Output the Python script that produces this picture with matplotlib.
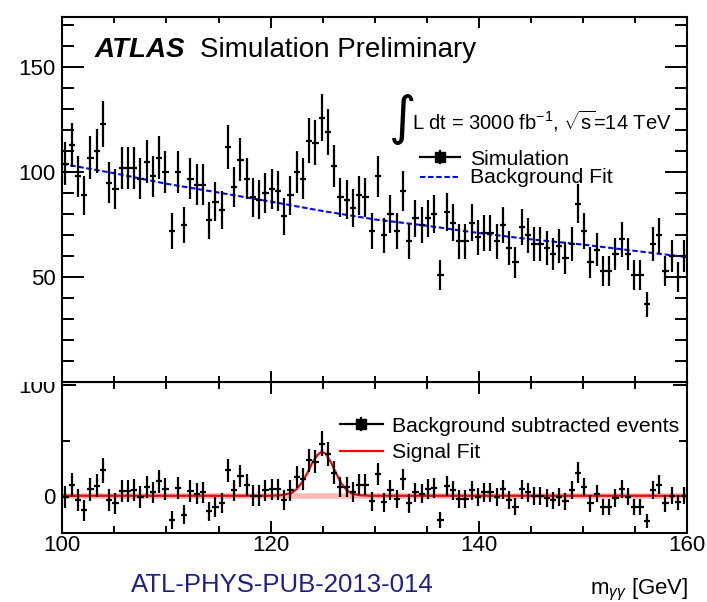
"""
Diphoton invariant mass spectrum (HL-LHC projection, 3000 fb^-1).
Top: simulated events with background fit. Bottom: background subtracted
events with the signal fit.
"""

import numpy as np
import matplotlib.pyplot as plt
from matplotlib.lines import Line2D
from matplotlib.patches import Rectangle
from matplotlib.ticker import MultipleLocator, FixedLocator, FuncFormatter

plt.rcParams['font.family'] = ['Liberation Sans', 'DejaVu Sans']
plt.rcParams['mathtext.fontset'] = 'custom'
plt.rcParams['mathtext.rm'] = 'Liberation Sans'
plt.rcParams['mathtext.it'] = 'Liberation Sans:italic'
plt.rcParams['mathtext.bf'] = 'Liberation Sans:bold'

# 100 bins of 0.6 GeV between 100 and 160 GeV
bin_edges = np.linspace(100, 160, 101)
mass = 0.5 * (bin_edges[:-1] + bin_edges[1:])

events = [104, 113, 98, 89, 107, 110, 123, 95, 92, 102,
          102, 102, 97, 105, 98, 107, 100, 72, 100, 75,
          97, 94, 94, 77, 86, 82, 112, 93, 106, 97,
          88, 87, 90, 92, 91, 79, 89, 100, 97, 115,
          114, 126, 119, 103, 88, 87, 83, 89, 88, 72,
          98, 70, 80, 72, 91, 67, 78, 75, 78, 80,
          51, 81, 76, 67, 67, 76, 69, 71, 71, 67,
          75, 64, 57, 74, 70, 66, 66, 64, 61, 65,
          59, 66, 85, 72, 57, 63, 53, 53, 61, 68,
          61, 51, 51, 37, 66, 70, 53, 60, 50, 60]

bkg_subtracted = [-1, 10, -4, -13, 6, 9, 23, -4, -7, 4,
                  4, 5, -1, 8, 3, 13, 6, -22, 7, -17,
                  4, 2, 3, -14, -10, -7, 23, 5, 18, 10,
                  0, 0, 5, 6, 6, -4, 5, 17, 15, 32,
                  31, 47, 38, 21, 8, 8, 3, 10, 10, -5,
                  20, -6, 5, -3, 15, -7, 3, 2, 6, 7,
                  -22, 9, 5, -3, -3, 5, -1, 3, 3, -1,
                  6, -4, -10, 6, 3, 0, 0, -2, -4, -1,
                  -5, 5, 21, 8, -7, 2, -10, -10, -2, 6,
                  -1, -10, -10, -23, 5, 10, -7, 0, -6, 0]

# background fit, read every 5 GeV
fit_mass = [100, 105, 110, 115, 120, 125, 130, 135, 140, 145, 150, 155, 160]
bkg_fit = [104, 99.5, 94.5, 90.3, 86, 81.5, 77.5, 74.5, 71, 68, 65.5, 62.5, 59.5]

# signal fit curve
sig_mass = [100, 120, 121, 122, 122.5, 123, 123.5, 124, 124.5, 124.9,
            125.3, 125.8, 126.3, 126.8, 127.3, 127.8, 128.5, 129.5, 160]
sig_fit = [0, 0, 0.5, 2.5, 6, 12, 20, 30, 37, 40,
           38, 30, 20, 11, 5, 2, 0.5, 0, 0]

W, H = 707, 602
fig = plt.figure(figsize=(W / 100, H / 100), dpi=100)


def fx(x):
    return x / W


def fy(y):
    return 1 - y / H


ax_top = fig.add_axes([fx(62.3), fy(382), 625 / W, 365 / H], zorder=2)
ax_bot = fig.add_axes([fx(62.3), fy(533.3), 625 / W, 151.3 / H], zorder=0)

err = np.sqrt(events)

ax_top.errorbar(mass, events, xerr=0.3, yerr=err, fmt='none', ecolor='black',
                elinewidth=1.6, capsize=0, zorder=3)
ax_top.plot(fit_mass, bkg_fit, color='blue', lw=1.5, ls=(0, (2.6, 1.3)), zorder=2)

ax_bot.axhline(0, color='#ff7070', lw=4, alpha=0.5, zorder=1)
ax_bot.plot(sig_mass, sig_fit, color='red', lw=1.6, zorder=2)
ax_bot.errorbar(mass, bkg_subtracted, xerr=0.3, yerr=err, fmt='none',
                ecolor='black', elinewidth=1.6, capsize=0, zorder=3)

for ax in (ax_top, ax_bot):
    ax.set_xlim(100, 160)
    ax.xaxis.set_major_locator(MultipleLocator(20))
    ax.xaxis.set_minor_locator(MultipleLocator(5))
    ax.tick_params(which='both', direction='in', top=True, right=True,
                   width=1.4, labelsize=16, pad=5)
    for s in ax.spines.values():
        s.set_linewidth(1.5)

ax_top.set_ylim(0, 174)
ax_top.yaxis.set_major_locator(MultipleLocator(50))
ax_top.yaxis.set_minor_locator(MultipleLocator(10))
ax_top.yaxis.set_major_formatter(FuncFormatter(lambda v, p: '' if v == 0 else f'{v:.0f}'))
ax_top.tick_params(axis='x', labelbottom=False)
ax_top.tick_params(axis='y', which='major', length=16)
ax_top.tick_params(axis='y', which='minor', length=8.4)
ax_top.tick_params(axis='x', which='major', length=8)
ax_top.tick_params(axis='x', which='minor', length=4.5)

ax_bot.set_ylim(-34, 103)
ax_bot.yaxis.set_major_locator(FixedLocator([0, 100]))
ax_bot.yaxis.set_minor_locator(FixedLocator([50]))
ax_bot.tick_params(axis='y', which='major', length=10)
ax_bot.tick_params(axis='y', which='minor', length=6)
ax_bot.tick_params(axis='x', which='major', length=8.4, pad=1)
ax_bot.tick_params(axis='x', which='minor', length=4.8)

# upper pad hides the top of the lower pad's labels
fig.add_artist(Rectangle((0, fy(382)), fx(62.3), 1 - fy(382), transform=fig.transFigure,
                         facecolor='white', edgecolor='none', zorder=1))

# labels
fig.text(fx(95), fy(57), 'ATLAS', fontsize=20, weight='bold', style='italic',
         va='baseline', zorder=5)
fig.text(fx(200), fy(57), 'Simulation Preliminary', fontsize=20, va='baseline', zorder=5)
fig.text(fx(389), fy(119), '\u222b', fontsize=38, family='DejaVu Sans', va='center',
         zorder=5)
fig.text(fx(412), fy(130), r'L dt = 3000 fb$^{\mathrm{-1}}$, $\sqrt{\mathrm{s}}$=14 TeV',
         fontsize=14.5, va='baseline', zorder=5)


def legend_marker(x0, x1, y):
    xm = 0.5 * (x0 + x1)
    fig.add_artist(Line2D([fx(x0), fx(x1)], [fy(y), fy(y)], color='black', lw=1.6,
                          transform=fig.transFigure, zorder=5))
    fig.add_artist(Line2D([fx(xm), fx(xm)], [fy(y - 6), fy(y + 6)], color='black', lw=1.6,
                          transform=fig.transFigure, zorder=5))
    fig.add_artist(Line2D([fx(xm)], [fy(y)], marker='s', ms=6.5, color='black',
                          transform=fig.transFigure, zorder=5))


legend_marker(420, 460, 157)
fig.text(fx(470), fy(165), 'Simulation', fontsize=15.3, va='baseline', zorder=5)
fig.add_artist(Line2D([fx(420), fx(460)], [fy(177), fy(177)], color='blue', lw=1.5,
                      ls=(0, (2.6, 1.3)), transform=fig.transFigure, zorder=5))
fig.text(fx(470), fy(183), 'Background Fit', fontsize=15.3, va='baseline', zorder=5)

legend_marker(340, 383, 424)
fig.text(fx(392), fy(432), 'Background subtracted events', fontsize=15.3,
         va='baseline', zorder=5)
fig.add_artist(Line2D([fx(340), fx(383)], [fy(451), fy(451)], color='red', lw=1.6,
                      transform=fig.transFigure, zorder=5))
fig.text(fx(392), fy(458), 'Signal Fit', fontsize=15.3, va='baseline', zorder=5)

fig.text(fx(131), fy(592), 'ATL-PHYS-PUB-2013-014', fontsize=18.5, color='#1e1e8c',
         va='baseline')
fig.text(fx(688), fy(594), r'm$_{\gamma\gamma}$ [GeV]', fontsize=16, ha='right',
         va='baseline')

fig.savefig('out.png', dpi=100)
